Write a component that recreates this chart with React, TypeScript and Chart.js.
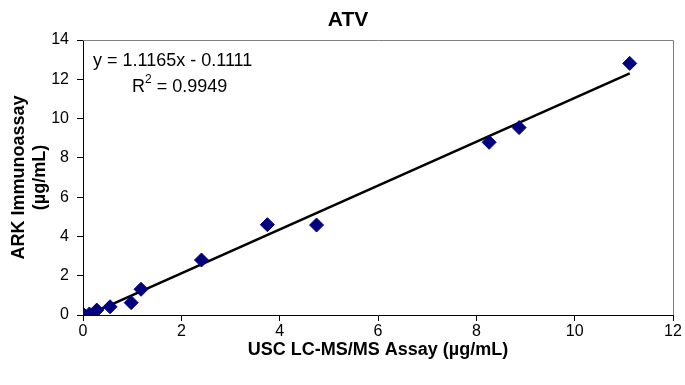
import React, { useEffect, useRef } from "react";
import { Chart, registerables } from "chart.js";

Chart.register(...registerables);

const FONT = "'Liberation Sans', Arial, sans-serif";

const chartTitle = "ATV";
const xAxisTitle = "USC LC-MS/MS Assay (µg/mL)";
const yAxisTitle = ["ARK Immunoassay", "(µg/mL)"];

const uscValues = [0.02, 0.13, 0.28, 0.55, 0.98, 1.18, 2.41, 3.75, 4.75, 8.26, 8.87, 11.12];
const arkValues = [0.0, 0.05, 0.25, 0.42, 0.63, 1.31, 2.8, 4.6, 4.58, 8.79, 9.54, 12.81];

const trendSlope = 1.1165;
const trendIntercept = -0.1111;
const rSquared = 0.9949;

const xTicks = [0, 2, 4, 6, 8, 10, 12];
const yTicks = [0, 2, 4, 6, 8, 10, 12, 14];

const decorPlugin = {
  id: "decor",
  afterDraw(chart: any) {
    const { ctx, chartArea } = chart;
    ctx.save();
    ctx.strokeStyle = "#808080";
    ctx.lineWidth = 1;
    ctx.beginPath();
    ctx.moveTo(chartArea.left, chartArea.top + 0.5);
    ctx.lineTo(chartArea.right + 0.5, chartArea.top + 0.5);
    ctx.lineTo(chartArea.right + 0.5, chartArea.bottom);
    ctx.stroke();

    ctx.fillStyle = "#000";
    ctx.font = `bold 21px ${FONT}`;
    ctx.textAlign = "center";
    ctx.textBaseline = "middle";
    ctx.fillText(chartTitle, 348, 20);

    ctx.font = `18px ${FONT}`;
    ctx.textAlign = "left";
    const sign = trendIntercept < 0 ? "-" : "+";
    ctx.fillText(`y = ${trendSlope.toFixed(4)}x ${sign} ${Math.abs(trendIntercept).toFixed(4)}`, 93, 61);
    let x = 132;
    ctx.fillText("R", x, 87);
    x += ctx.measureText("R").width;
    ctx.font = `12px ${FONT}`;
    ctx.fillText("2", x, 80);
    x += ctx.measureText("2").width;
    ctx.font = `18px ${FONT}`;
    ctx.fillText(` = ${rSquared.toFixed(4)}`, x, 87);
    ctx.restore();
  },
};

export default function App() {
  const ref = useRef<HTMLCanvasElement | null>(null);
  useEffect(() => {
    if (!ref.current) return;
    const xMin = Math.min(...uscValues);
    const xMax = Math.max(...uscValues);
    const trend = [xMin, xMax].map((v) => ({ x: v, y: trendSlope * v + trendIntercept }));
    const chart = new Chart(ref.current, {
      type: "scatter",
      data: {
        datasets: [
          {
            type: "line",
            label: "Trend",
            data: trend,
            borderColor: "#000",
            borderWidth: 2.5,
            pointRadius: 0,
            fill: false,
            order: 2,
          } as any,
          {
            label: "ATV",
            data: uscValues.map((v, i) => ({ x: v, y: arkValues[i] })),
            pointStyle: "rectRot",
            pointRadius: 7,
            backgroundColor: "#000080",
            borderColor: "#000080",
            borderWidth: 1,
            order: 1,
          },
        ],
      },
      options: {
        responsive: false,
        animation: false,
        layout: { padding: { left: 0, right: 12, top: 40, bottom: 0 } },
        plugins: { legend: { display: false }, tooltip: { enabled: false }, title: { display: false } },
        scales: {
          x: {
            type: "linear",
            min: 0,
            max: 12,
            afterFit: (s: any) => { s.height = 70; },
            afterBuildTicks: (s: any) => { s.ticks = xTicks.map((v) => ({ value: v })); },
            ticks: { color: "#000", font: { family: FONT, size: 16 }, padding: 1 },
            grid: { drawOnChartArea: false, drawTicks: true, tickLength: 6, color: "#000" },
            border: { color: "#000", width: 1 },
            title: {
              display: true,
              text: xAxisTitle,
              color: "#000",
              font: { family: FONT, size: 18, weight: "bold" },
              padding: { top: 0, bottom: 24 },
            },
          },
          y: {
            type: "linear",
            min: 0,
            max: 14,
            afterFit: (s: any) => { s.width = 83; },
            afterBuildTicks: (s: any) => { s.ticks = yTicks.map((v) => ({ value: v })); },
            ticks: { color: "#000", font: { family: FONT, size: 16 }, padding: 8 },
            grid: { drawOnChartArea: false, drawTicks: true, tickLength: 6, color: "#000" },
            border: { color: "#000", width: 1 },
            title: {
              display: true,
              text: yAxisTitle,
              color: "#000",
              font: { family: FONT, size: 18, weight: "bold", lineHeight: 21 / 18 },
              padding: { top: 9, bottom: 0 },
            },
          },
        },
      },
      plugins: [decorPlugin],
    } as any);
    return () => chart.destroy();
  }, []);
  return (
    <div style={{ position: "fixed", left: 0, top: 0, width: 685, height: 385, background: "#fff" }}>
      <canvas ref={ref} width={685} height={385} />
    </div>
  );
}
